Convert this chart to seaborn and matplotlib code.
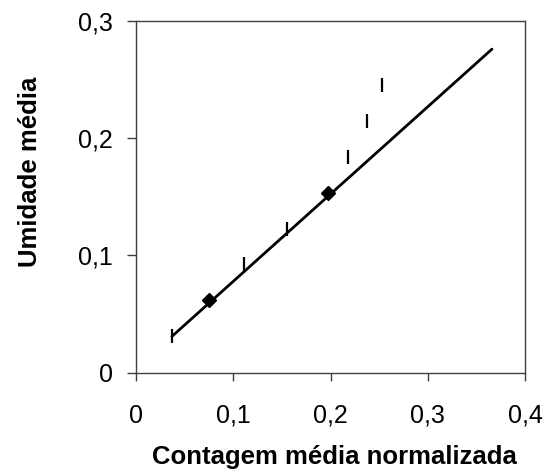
import matplotlib
matplotlib.use("Agg")
import matplotlib.pyplot as plt
import seaborn as sns
import pandas as pd

# Data
line_x = [0.037, 0.366]
line_y = [0.031, 0.276]
diamond_x = [0.075, 0.197]
diamond_y = [0.062, 0.153]
dash_x = [0.037, 0.111, 0.155, 0.218, 0.238, 0.253]
dash_y = [0.031, 0.093, 0.123, 0.184, 0.215, 0.245]
x_ticks = [0, 0.1, 0.2, 0.3, 0.4]
x_ticklabels = ["0", "0,1", "0,2", "0,3", "0,4"]
y_ticks = [0, 0.1, 0.2, 0.3]
y_ticklabels = ["0", "0,1", "0,2", "0,3"]
x_label = "Contagem média normalizada"
y_label = "Umidade média"

sns.set_style("ticks")
plt.rcParams["font.family"] = ["Liberation Sans", "DejaVu Sans"]
plt.rcParams["text.color"] = "black"
plt.rcParams["axes.labelcolor"] = "black"

fig = plt.figure(figsize=(5.58, 4.70), dpi=100)
ax = fig.add_axes([0.2437, 0.207, 0.9409 - 0.2437, 0.9553 - 0.207])

df_line = pd.DataFrame({"x": line_x, "y": line_y})
df_dia = pd.DataFrame({"x": diamond_x, "y": diamond_y})
df_dash = pd.DataFrame({"x": dash_x, "y": dash_y})

sns.lineplot(data=df_line, x="x", y="y", ax=ax, color="black", linewidth=2.0,
             estimator=None, sort=False, zorder=2)
sns.lineplot(data=df_dash, x="x", y="y", ax=ax, color="black", linestyle="",
             marker="|", markersize=10.5, markeredgewidth=1.6,
             markeredgecolor="black", estimator=None, sort=False, zorder=3)
sns.lineplot(data=df_dia, x="x", y="y", ax=ax, color="black", linestyle="",
             marker="D", markersize=7, markeredgewidth=1,
             markeredgecolor="black", estimator=None, sort=False, zorder=4)

ax.set_xlim(0, 0.4)
ax.set_ylim(0, 0.3)
ax.set_xticks(x_ticks)
ax.set_xticklabels(x_ticklabels)
ax.set_yticks(y_ticks)
ax.set_yticklabels(y_ticklabels)

spine_color = "#404040"
for s in ax.spines.values():
    s.set_visible(True)
    s.set_color(spine_color)
    s.set_linewidth(1.0)

ax.tick_params(axis="x", direction="out", length=5.5, width=1.0, color=spine_color,
               pad=17, labelsize=18, labelcolor="black")
ax.tick_params(axis="y", direction="out", length=6.5, width=1.0, color=spine_color,
               pad=10, labelsize=18, labelcolor="black")

ax.set_xlabel(x_label, fontsize=18.5, fontweight="bold")
ax.set_ylabel(y_label, fontsize=18.5, fontweight="bold")
ax.xaxis.set_label_coords(0.509, -0.2056)
ax.yaxis.set_label_coords(-0.242, 0.572)

fig.savefig("out.png", dpi=100)
